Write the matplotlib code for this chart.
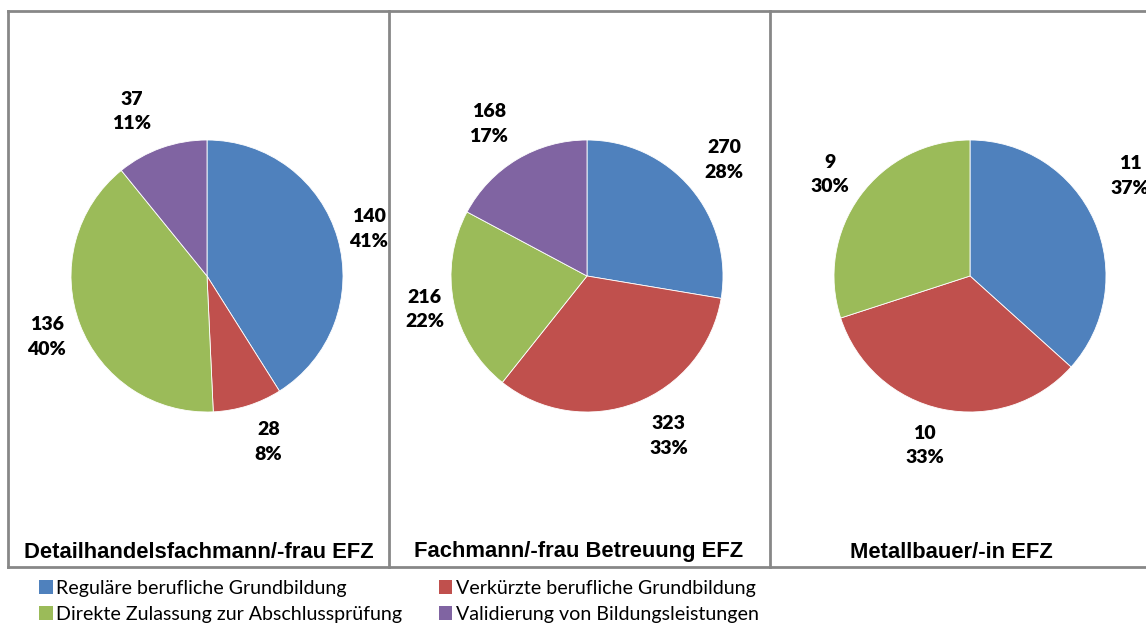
import matplotlib
matplotlib.use("Agg")
import matplotlib.pyplot as plt
from matplotlib.patches import Patch
from matplotlib.lines import Line2D
import numpy as np

# data
categories = [
    "Reguläre berufliche Grundbildung",
    "Verkürzte berufliche Grundbildung",
    "Direkte Zulassung zur Abschlussprüfung",
    "Validierung von Bildungsleistungen",
]
colors = ["#4F81BD", "#C0504D", "#9BBB59", "#8064A2"]

titles = ["Detailhandelsfachmann/-frau EFZ", "Fachmann/-frau Betreuung EFZ", "Metallbauer/-in EFZ"]
detailhandel = [140, 28, 136, 37]
betreuung = [270, 323, 216, 168]
metallbauer = [11, 10, 9, 0]
series = [detailhandel, betreuung, metallbauer]

# label placement (distance in radii, angle offset in degrees) per slice
label_layout = [
    [(1.24, 0), (1.30, 3), (1.26, 0), (1.33, 5)],
    [(1.32, 0), (1.32, 6), (1.22, 0), (1.33, 2)],
    [(1.39, 8), (1.29, -3), (1.27, 0), (1.3, 0)],
]

W, H = 1146, 628
fig = plt.figure(figsize=(W / 100, H / 100), dpi=100)

# panel frames
edges = [8, 389, 770]
top, bottom = 11, 567
gray = "#878787"
fx = lambda x: x / W
fy = lambda y: 1 - y / H
fig.add_artist(Line2D([fx(8), fx(1146)], [fy(top), fy(top)], color=gray, lw=2))
fig.add_artist(Line2D([fx(8), fx(1146)], [fy(bottom), fy(bottom)], color=gray, lw=2))
for x in edges:
    fig.add_artist(Line2D([fx(x), fx(x)], [fy(top), fy(bottom)], color=gray, lw=2))

r = 136
cy = 276
centers = [207, 587, 970]
title_x = [199, 579, 951]

for i, vals in enumerate(series):
    cx = centers[i]
    ax = fig.add_axes([fx(cx - r), fy(cy + r), 2 * r / W, 2 * r / H])
    vals = np.array(vals, dtype=float)
    keep = vals > 0
    wedges, _ = ax.pie(vals[keep], colors=[c for c, k in zip(colors, keep) if k],
                       startangle=90, counterclock=False, radius=1,
                       wedgeprops=dict(edgecolor="white", linewidth=0.6))
    ax.set_xlim(-1, 1)
    ax.set_ylim(-1, 1)
    ax.set_aspect("auto")
    ax.axis("off")
    total = vals.sum()
    j = 0
    for k, v in enumerate(vals):
        if v <= 0:
            continue
        w = wedges[j]
        j += 1
        mid = (w.theta1 + w.theta2) / 2
        dist, dth = label_layout[i][k]
        a = np.deg2rad(mid + dth)
        ax.text(dist * np.cos(a), dist * np.sin(a), f"{int(v)}\n{v / total:.0%}",
                ha="center", va="center", fontsize=14, fontweight="heavy",
                family="Lato", linespacing=1.55, clip_on=False)
    fig.text(fx(title_x[i]), fy(552), titles[i], ha="center", va="center",
             fontsize=15.8, fontweight="bold", family="Liberation Sans")

order = [0, 2, 1, 3]
handles = [Patch(facecolor=colors[k], edgecolor="none") for k in order]
labels = [categories[k] for k in order]
fig.legend(handles, labels, ncol=2, loc="upper left",
           bbox_to_anchor=(fx(29), fy(570)), frameon=False,
           prop=dict(family="Lato", size=14.1), handlelength=0.7, handleheight=0.7,
           handletextpad=0.2, columnspacing=1.85, labelspacing=0.45, borderpad=0)

fig.savefig("out.png", dpi=100)
